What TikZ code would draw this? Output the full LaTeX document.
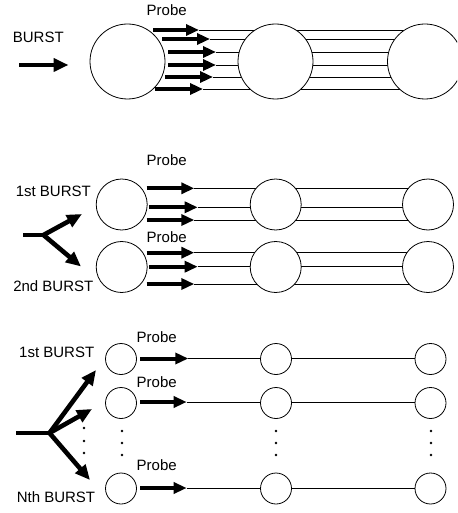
\documentclass[tikz,border=0pt]{standalone}
\usepackage{fontspec}
\setmainfont{Liberation Sans}
\usetikzlibrary{arrows.meta,backgrounds}
\tikzset{
  ring/.style={circle,draw,fill=white,line width=0.8pt,inner sep=0pt},
  bigc/.style={ring,minimum size=75pt},
  midc/.style={ring,minimum size=51pt},
  smallc/.style={ring,minimum size=31pt},
  probearrow/.style={line width=4pt,-{Triangle[length=13pt,width=11pt]}},
  thinline/.style={line width=0.7pt},
  lbl/.style={font=\fontsize{15}{18}\selectfont,inner sep=0pt},
  splitarrow/.style={line width=4.6pt,-{Triangle[length=15pt,width=13pt]}},
  stemline/.style={line width=4.6pt},
  dotmark/.style={circle,fill,inner sep=0pt,minimum size=2.8pt}
}
\begin{document}
\begin{tikzpicture}[x=1pt,y=-1pt]
\clip (0,0) rectangle (457,513);
\useasboundingbox (0,0) rectangle (457,513);

% ---------- Section 1 ----------
\node[bigc] (A1) at (127.5,61.5) {};
\node[bigc] (A2) at (275.5,61.5) {};
\node[bigc] (A3) at (425,61.5) {};
\node[lbl] (burstA) at (38.3,37.7) {BURST};
\node[lbl] (probeA) at (166.7,10) {Probe};
\coordinate (bA0) at (19,65);
\coordinate (bA1) at (68.5,65);
\draw[line width=4pt,-{Triangle[length=15pt,width=13pt]}] (bA0) -- (bA1);
\foreach \sx/\tx/\y [count=\i] in {153/199/30,162/210/39,168/216/52,168/216/65,165/213/77,155/203/89}{
  \coordinate (pAs\i) at (\sx,\y);
  \coordinate (pAt\i) at (\tx,\y);
  \begin{scope}[on background layer]
    \draw[thinline] (pAt\i) -- (pAt\i -| A3.center);
  \end{scope}
  \draw[probearrow] (pAs\i) -- (pAt\i);
}

% ---------- Section 2 ----------
\foreach \r/\y in {1/204.5,2/267}{
  \node[midc] (B\r1) at (121.7,\y) {};
  \node[midc] (B\r2) at (275.7,\y) {};
  \node[midc] (B\r3) at (428,\y) {};
}
\node[lbl] (probeB1) at (166.7,160) {Probe};
\node[lbl] (probeB2) at (166.7,236.7) {Probe};
\node[lbl] (burstB1) at (53.3,191.7) {1st BURST};
\node[lbl] (burstB2) at (53.3,286) {2nd BURST};
\foreach \sx/\tx/\y [count=\i] in {146.7/194.3/188.3,149.3/197.7/207.3,146.7/194.3/220,146.7/194.3/252.7,149.3/197.7/266.7,146.7/194.3/284}{
  \coordinate (pBs\i) at (\sx,\y);
  \coordinate (pBt\i) at (\tx,\y);
  \begin{scope}[on background layer]
    \draw[thinline] (pBt\i) -- (pBt\i -| B13.center);
  \end{scope}
  \draw[probearrow] (pBs\i) -- (pBt\i);
}
\coordinate (sB0) at (23,235);
\coordinate (sB) at (43.5,235);
\coordinate (sBu) at (82,214);
\coordinate (sBd) at (81,266.5);
\draw[stemline] (sB0) -- (sB);
\draw[splitarrow] (sB) -- (sBu);
\draw[splitarrow] (sB) -- (sBd);

% ---------- Section 3 ----------
\foreach \r/\y in {1/359,2/403,3/488.5}{
  \node[smallc] (C\r1) at (121,\y) {};
  \node[smallc] (C\r2) at (276,\y) {};
  \node[smallc] (C\r3) at (430.5,\y) {};
}
\node[lbl] (probeC1) at (156.7,336.7) {Probe};
\node[lbl] (probeC2) at (156.7,381.7) {Probe};
\node[lbl] (probeC3) at (156.7,465) {Probe};
\node[lbl] (burstC1) at (56.7,352.5) {1st BURST};
\node[lbl] (burstC3) at (56,497) {Nth BURST};
\foreach \tx/\y [count=\i] in {188.3/358.5,186.7/402,186.7/488}{
  \coordinate (pCs\i) at (140,\y);
  \coordinate (pCt\i) at (\tx,\y);
  \begin{scope}[on background layer]
    \draw[thinline] (pCt\i) -- (pCt\i -| C13.center);
  \end{scope}
  \draw[probearrow] (pCs\i) -- (pCt\i);
}
\coordinate (sC0) at (16,433);
\coordinate (sC) at (49.5,433);
\coordinate (sCu) at (96,370);
\coordinate (sCm) at (92,409);
\coordinate (sCd) at (90,480);
\draw[stemline] (sC0) -- (sC);
\draw[splitarrow] (sC) -- (sCu);
\draw[splitarrow] (sC) -- (sCm);
\draw[splitarrow] (sC) -- (sCd);
% dots
\foreach \y [count=\i] in {428,441,453}{ \node[dotmark] (dA\i) at (84,\y) {}; }
\foreach \x/\n in {122/B,276/C,431/D}{
  \foreach \y [count=\i] in {431,443,455}{ \node[dotmark] (d\n\i) at (\x,\y) {}; }
}
\end{tikzpicture}
\end{document}
